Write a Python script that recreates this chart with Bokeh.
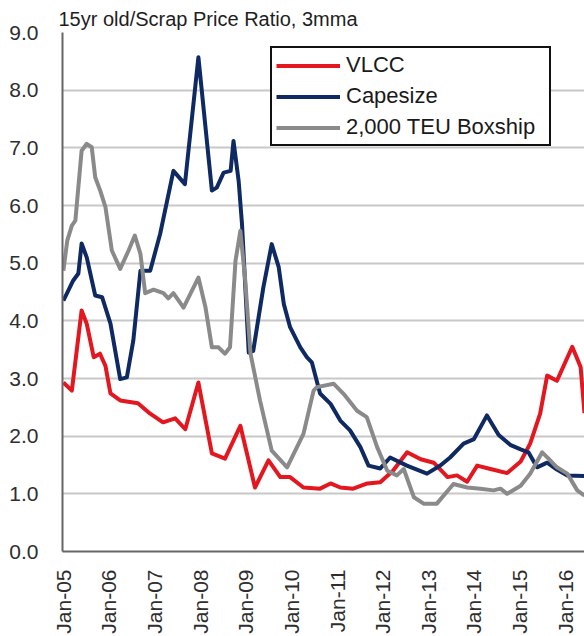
import math
import pandas as pd
from bokeh.plotting import figure
from bokeh.models import FixedTicker, Range1d, Legend, LegendItem
from bokeh.embed import file_html
from bokeh.resources import INLINE

title_text = "15yr old/Scrap Price Ratio, 3mma"

x_tick_dates = ["2005-01-01", "2006-01-01", "2007-01-01", "2008-01-01", "2009-01-01", "2010-01-01",
                "2011-01-01", "2012-01-01", "2013-01-01", "2014-01-01", "2015-01-01", "2016-01-01"]
x_tick_labels = ["Jan-05", "Jan-06", "Jan-07", "Jan-08", "Jan-09", "Jan-10",
                 "Jan-11", "Jan-12", "Jan-13", "Jan-14", "Jan-15", "Jan-16"]
y_ticks = [0, 1, 2, 3, 4, 5, 6, 7, 8, 9]
y_tick_labels = ["0.0", "1.0", "2.0", "3.0", "4.0", "5.0", "6.0", "7.0", "8.0", "9.0"]

series_names = ["VLCC", "Capesize", "2,000 TEU Boxship"]

vlcc_dates = ["2005-01-01", "2005-03-10", "2005-05-27", "2005-07-07", "2005-09-01", "2005-10-21",
              "2005-12-04", "2006-01-13", "2006-04-01", "2006-08-21", "2006-11-27", "2007-03-10",
              "2007-06-15", "2007-09-04", "2007-12-18", "2008-04-04", "2008-07-18", "2008-11-18",
              "2009-03-15", "2009-07-01", "2009-10-04", "2009-12-21", "2010-04-07", "2010-08-18",
              "2010-11-10", "2011-01-27", "2011-05-10", "2011-09-01", "2011-12-13", "2012-03-24",
              "2012-07-15", "2012-11-01", "2013-02-13", "2013-06-04", "2013-08-18", "2013-11-07",
              "2014-01-27", "2014-05-13", "2014-09-24", "2015-01-10", "2015-03-27", "2015-06-15",
              "2015-08-10", "2015-10-27", "2016-02-27", "2016-05-04", "2016-06-04"]
vlcc_values = [2.93, 2.79, 4.18, 3.95, 3.37, 3.43,
               3.22, 2.74, 2.62, 2.57, 2.39, 2.24,
               2.31, 2.12, 2.93, 1.70, 1.61, 2.18,
               1.11, 1.58, 1.29, 1.29, 1.11, 1.09,
               1.18, 1.11, 1.09, 1.18, 1.20, 1.40,
               1.72, 1.60, 1.54, 1.29, 1.32, 1.21,
               1.49, 1.43, 1.36, 1.56, 1.87, 2.39,
               3.05, 2.96, 3.55, 3.20, 2.40]

cape_dates = ["2005-01-01", "2005-03-21", "2005-05-01", "2005-05-27", "2005-07-07", "2005-09-13",
              "2005-11-07", "2006-01-13", "2006-04-01", "2006-05-24", "2006-07-15", "2006-09-10",
              "2006-11-27", "2007-02-15", "2007-06-01", "2007-09-01", "2007-12-18", "2008-04-04",
              "2008-05-13", "2008-07-07", "2008-09-01", "2008-09-24", "2008-11-04", "2008-12-01",
              "2009-01-24", "2009-03-01", "2009-05-21", "2009-07-27", "2009-09-21", "2009-11-01",
              "2009-12-21", "2010-03-13", "2010-05-04", "2010-06-13", "2010-08-18", "2010-11-10",
              "2011-01-27", "2011-04-15", "2011-07-07", "2011-09-10", "2011-12-13", "2012-03-01",
              "2012-07-13", "2012-12-21", "2013-04-07", "2013-06-24", "2013-10-10", "2014-01-01",
              "2014-04-15", "2014-07-18", "2014-10-18", "2015-01-10", "2015-03-13", "2015-05-21",
              "2015-08-10", "2015-10-27", "2016-01-18", "2016-06-04"]
cape_values = [4.35, 4.70, 4.82, 5.34, 5.10, 4.44,
               4.41, 3.95, 2.99, 3.02, 3.66, 4.87,
               4.87, 5.51, 6.60, 6.37, 8.57, 6.26,
               6.31, 6.57, 6.60, 7.12, 6.43, 5.68,
               3.45, 3.48, 4.58, 5.33, 4.93, 4.29,
               3.89, 3.54, 3.37, 3.28, 2.74, 2.56,
               2.27, 2.10, 1.81, 1.49, 1.44, 1.63,
               1.49, 1.35, 1.49, 1.63, 1.87, 1.95,
               2.36, 2.02, 1.85, 1.77, 1.72, 1.46,
               1.54, 1.42, 1.32, 1.31]

box_dates = ["2005-01-01", "2005-02-01", "2005-03-10", "2005-04-07", "2005-05-27", "2005-07-07",
             "2005-08-16", "2005-09-13", "2005-10-21", "2005-12-04", "2006-01-24", "2006-04-01",
             "2006-06-07", "2006-07-27", "2006-09-10", "2006-10-18", "2006-12-24", "2007-03-13",
             "2007-04-21", "2007-06-01", "2007-08-21", "2007-12-18", "2008-02-13", "2008-04-04",
             "2008-05-27", "2008-07-18", "2008-08-27", "2008-10-10", "2008-11-18", "2008-12-27",
             "2009-02-07", "2009-04-24", "2009-07-27", "2009-11-27", "2010-04-07", "2010-06-27",
             "2010-07-24", "2010-12-04", "2011-02-24", "2011-06-10", "2011-08-27", "2011-11-18",
             "2012-02-07", "2012-04-24", "2012-06-18", "2012-09-07", "2012-11-24", "2013-03-10",
             "2013-07-21", "2013-11-07", "2014-02-21", "2014-06-07", "2014-08-01", "2014-09-24",
             "2015-01-10", "2015-03-27", "2015-07-01", "2015-08-21", "2015-10-27", "2016-01-18",
             "2016-04-07", "2016-06-04"]
box_values = [4.87, 5.39, 5.65, 5.74, 6.95, 7.07,
              7.01, 6.49, 6.27, 5.97, 5.22, 4.90,
              5.22, 5.48, 5.16, 4.48, 4.54, 4.48,
              4.39, 4.48, 4.23, 4.75, 4.23, 3.54,
              3.54, 3.43, 3.54, 5.04, 5.56, 4.70,
              3.43, 2.62, 1.75, 1.46, 2.04, 2.79,
              2.85, 2.91, 2.73, 2.44, 2.33, 1.81,
              1.40, 1.32, 1.43, 0.94, 0.83, 0.83,
              1.17, 1.11, 1.09, 1.06, 1.09, 1.00,
              1.14, 1.35, 1.72, 1.61, 1.46, 1.35,
              1.06, 0.97]

colors = ["#e3171f", "#0f2a63", "#8a8a8a"]
FONT = "Liberation Sans"

x_start = pd.Timestamp("2004-12-25")
x_end = pd.Timestamp("2016-06-04")

p = figure(width=584, height=636, x_axis_type="datetime",
           output_backend="svg", toolbar_location=None,
           x_range=Range1d(x_start, x_end), y_range=Range1d(0, 9),
           min_border_left=62, min_border_right=0, min_border_top=32, min_border_bottom=85)

p.title.text = title_text
p.title.text_font = FONT
p.title.text_font_size = "20px"
p.title.text_font_style = "normal"
p.title.text_color = "#1e1e1e"
p.title.align = "left"
p.title.offset = -4
p.title.standoff = 5

p.outline_line_color = None
p.background_fill_color = "white"
p.border_fill_color = "white"

p.xgrid.grid_line_color = None
p.ygrid.grid_line_color = "#c8c8c8"
p.ygrid.grid_line_width = 2

# y axis
p.yaxis.ticker = FixedTicker(ticks=y_ticks)
p.yaxis.major_label_overrides = {t: lab for t, lab in zip(y_ticks, y_tick_labels)}
p.yaxis.major_tick_line_color = None
p.yaxis.minor_tick_line_color = None
p.yaxis.axis_line_color = "#666666"
p.yaxis.axis_line_width = 2
p.yaxis.major_label_text_font = FONT
p.yaxis.major_label_text_font_size = "21px"
p.yaxis.major_label_text_color = "#2e2e2e"
p.yaxis.major_label_standoff = 18

# x axis
tick_ms = [pd.Timestamp(d).value / 1e6 for d in x_tick_dates]
p.xaxis.ticker = FixedTicker(ticks=tick_ms)
p.xaxis.major_label_overrides = {t: lab for t, lab in zip(tick_ms, x_tick_labels)}
p.xaxis.major_label_orientation = math.pi / 2
p.xaxis.major_tick_line_color = None
p.xaxis.minor_tick_line_color = None
p.xaxis.axis_line_color = "#666666"
p.xaxis.axis_line_width = 2
p.xaxis.major_label_text_font = FONT
p.xaxis.major_label_text_font_size = "21px"
p.xaxis.major_label_text_color = "#2e2e2e"
p.xaxis.major_label_standoff = 12

all_dates = [vlcc_dates, cape_dates, box_dates]
all_values = [vlcc_values, cape_values, box_values]

renderers = []
for d, v, c in zip(all_dates, all_values, colors):
    r = p.line(pd.to_datetime(d), v, line_color=c, line_width=4, line_join="round")
    renderers.append(r)

legend = Legend(items=[LegendItem(label=n, renderers=[r]) for n, r in zip(series_names, renderers)],
                location=(208, 405))
legend.label_text_font = FONT
legend.label_text_font_size = "22px"
legend.label_text_color = "#1a1a1a"
legend.glyph_width = 64
legend.glyph_height = 21
legend.label_height = 21
legend.label_width = 199
legend.label_standoff = 6
legend.spacing = 5
legend.padding = 4
legend.margin = 0
legend.border_line_color = "#111111"
legend.border_line_alpha = 1.0
legend.border_line_width = 2
legend.background_fill_color = "white"
legend.background_fill_alpha = 1.0
p.add_layout(legend)

open("out.html", "w").write(file_html(p, INLINE))
